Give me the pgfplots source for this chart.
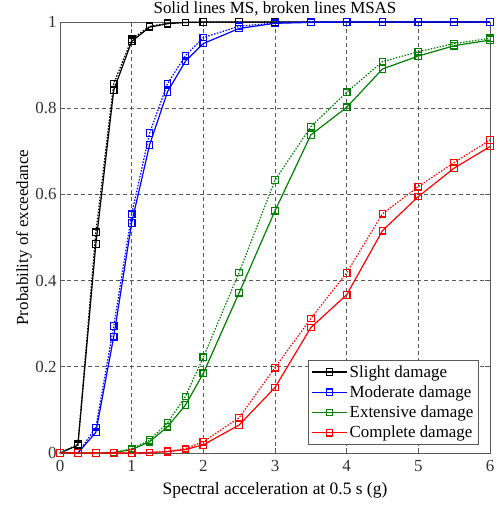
\documentclass[border=0pt]{standalone}
\usepackage{fontspec}
\setmainfont{Liberation Serif}
\usepackage{pgfplots}
\usepackage{pgfplotstable}
\pgfplotsset{compat=1.18}
\definecolor{mgreen}{RGB}{0,128,0}
\definecolor{mblue}{RGB}{0,0,255}
\definecolor{mred}{RGB}{255,0,0}
\definecolor{framegray}{RGB}{90,90,90}

\pgfplotstableread{
x    sms   smsas mms   mmsas ems   emsas cms   cmsas
0    0     0     0     0     0     0     0     0
0.25 0.018 0.020 0     0     0     0     0     0
0.5  0.485 0.512 0.048 0.059 0     0     0     0
0.75 0.842 0.857 0.270 0.295 0.001 0.001 0     0
1    0.955 0.960 0.534 0.554 0.008 0.010 0     0
1.25 0.988 0.990 0.715 0.742 0.026 0.030 0.001 0.001
1.5  0.996 0.997 0.838 0.857 0.061 0.070 0.003 0.004
1.75 0.999 0.999 0.909 0.922 0.111 0.131 0.008 0.010
2    1     1     0.950 0.964 0.185 0.222 0.019 0.026
2.5  1     1     0.985 0.990 0.372 0.419 0.065 0.082
3    1     1     0.997 0.998 0.562 0.633 0.152 0.198
3.5  1     1     0.999 1     0.738 0.757 0.291 0.312
4    1     1     1     1     0.802 0.837 0.367 0.418
4.5  1     1     1     1     0.891 0.908 0.516 0.555
5    1     1     1     1     0.921 0.931 0.595 0.618
5.5  1     1     1     1     0.945 0.950 0.661 0.674
6    1     1     1     1     0.958 0.962 0.711 0.726
}\data

\begin{document}
\begin{tikzpicture}[font=\fontsize{16.5}{19}\selectfont]
\useasboundingbox (-60bp,-53bp) rectangle (438bp,453bp);
\begin{axis}[
  at={(0,0)}, anchor=south west,
  scale only axis, width=430bp, height=431bp,
  xmin=0, xmax=6, ymin=0, ymax=1,
  xtick={0,1,2,3,4,5,6},
  xticklabels={0,1,2,3,4,5,6},
  ytick={0,0.2,0.4,0.6,0.8,1},
  yticklabels={0,0.2,0.4,0.6,0.8,1},
  grid=major,
  major grid style={dash pattern=on 4bp off 3bp, black!65, line width=0.8bp},
  axis line style={framegray, line width=0.9bp},
  tick style={framegray, line width=0.8bp},
  major tick length=5bp,
  ticklabel style={font=\fontsize{17}{20}\selectfont, text=black!80},
  xticklabel style={yshift=-4bp},
  xlabel={Spectral acceleration at 0.5 s (g)},
  ylabel={Probability of exceedance},
  title={Solid lines MS, broken lines MSAS},
  xlabel style={at={(axis description cs:0.5,-0.0974)}, anchor=base, font=\fontsize{17.5}{20}\selectfont},
  ylabel style={at={(axis description cs:-0.0744,0.5)}, anchor=base, rotate=0, font=\fontsize{17}{20}\selectfont},
  title style={at={(axis description cs:0.5,1.007)}, anchor=base, inner sep=0pt, font=\fontsize{17}{20}\selectfont},
  legend style={at={(0.974,0.019)}, anchor=south east, draw=framegray, line width=0.9bp,
    font=\fontsize{17}{20}\selectfont, inner xsep=3bp, inner ysep=3bp, row sep=3bp, cells={anchor=west}},
  legend image code/.code={\draw[mark repeat=2,mark phase=2,#1] plot coordinates {(0bp,0bp) (17.5bp,0bp) (35bp,0bp)};},
  every axis plot/.append style={line width=1.2bp, mark=square, mark size=3.3bp},
]
\addplot[black] table[x=x,y=sms]{\data};
\addlegendentry{Slight damage}
\addplot[black, dash pattern=on 1.5bp off 1.5bp, mark options={solid}, forget plot] table[x=x,y=smsas]{\data};
\addplot[mblue] table[x=x,y=mms]{\data};
\addlegendentry{Moderate damage}
\addplot[mblue, dash pattern=on 1.5bp off 1.5bp, mark options={solid}, forget plot] table[x=x,y=mmsas]{\data};
\addplot[mgreen] table[x=x,y=ems]{\data};
\addlegendentry{Extensive damage}
\addplot[mgreen, dash pattern=on 1.5bp off 1.5bp, mark options={solid}, forget plot] table[x=x,y=emsas]{\data};
\addplot[mred] table[x=x,y=cms]{\data};
\addlegendentry{Complete damage}
\addplot[mred, dash pattern=on 1.5bp off 1.5bp, mark options={solid}, forget plot] table[x=x,y=cmsas]{\data};
\end{axis}
\end{tikzpicture}
\end{document}
